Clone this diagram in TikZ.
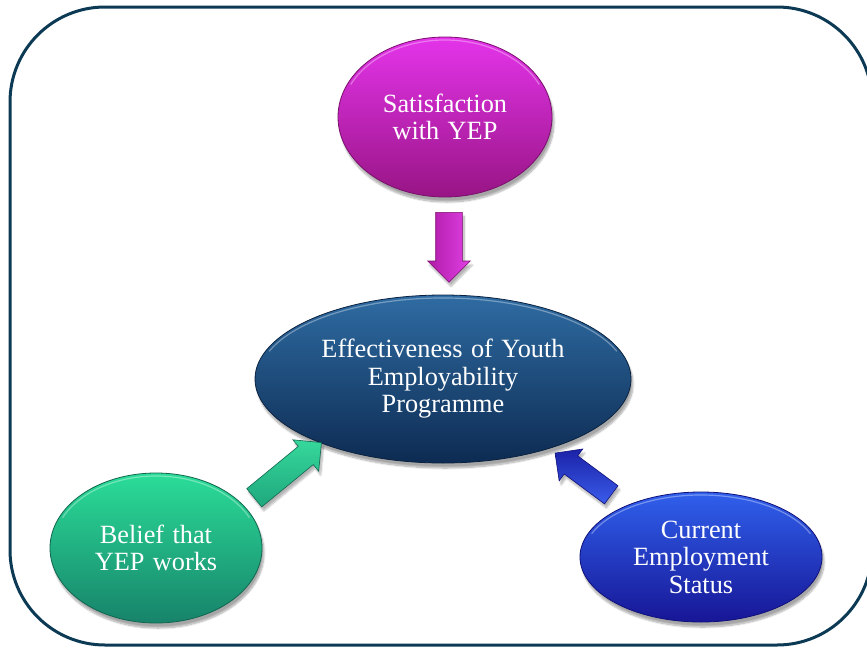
\documentclass[tikz,border=0pt]{standalone}
\usepackage{fontspec}
\setmainfont{Liberation Serif}
\usetikzlibrary{shapes.geometric,shapes.arrows,shadows.blur}
\definecolor{frameNavy}{HTML}{0C3A55}
\definecolor{magTop}{HTML}{E434EA}
\definecolor{magBot}{HTML}{981585}
\definecolor{magEdge}{HTML}{7A0F6C}
\definecolor{effTop}{HTML}{2F6CA3}
\definecolor{effBot}{HTML}{0D2B52}
\definecolor{effEdge}{HTML}{0A2240}
\definecolor{grnTop}{HTML}{2BDD98}
\definecolor{grnBot}{HTML}{17836A}
\definecolor{grnEdge}{HTML}{116650}
\definecolor{bluTop}{HTML}{3060EC}
\definecolor{bluBot}{HTML}{171696}
\definecolor{bluEdge}{HTML}{10107A}
\definecolor{magArrA}{HTML}{E040E4}
\definecolor{magArrB}{HTML}{B01CA8}
\definecolor{grnArrA}{HTML}{36D89C}
\definecolor{grnArrB}{HTML}{1FA77C}
\definecolor{bluArrA}{HTML}{3A5CEA}
\definecolor{bluArrB}{HTML}{1B22A8}
\newcommand{\bubblefont}{\fontsize{26.3}{27.5}\selectfont\spaceskip=0.32em\relax}
\begin{document}
\begin{tikzpicture}[x=1pt,y=-1pt,
  bubble/.style={ellipse, inner sep=0pt, text=white, align=center,
    font=\bubblefont, line width=0.8pt,
    blur shadow={shadow xshift=2pt, shadow yshift=-5pt, shadow opacity=35, shadow blur steps=10}},
  blockarrow/.style={single arrow, inner xsep=0pt, anchor=tail, line width=0.6pt,
    blur shadow={shadow xshift=2pt, shadow yshift=-4pt, shadow opacity=30, shadow blur steps=8}},
  rim/.style={white, opacity=0.35, line width=1.2pt}
]
\useasboundingbox (0,0) rectangle (867,648);
\clip (0,0) rectangle (867,648);
% frame
\draw[frameNavy, line width=3pt, rounded corners=95pt] (10,7) rectangle (872,645);

% ellipses
\node[bubble, minimum width=214pt, minimum height=160pt,
  top color=magTop, bottom color=magBot, draw=magEdge] (sat) at (445,117) {Satisfaction\\with YEP};
\node[bubble, minimum width=376pt, minimum height=168pt,
  top color=effTop, bottom color=effBot, draw=effEdge] (eff) at (443,379) {Effectiveness of Youth\\Employability\\Programme};
\node[bubble, minimum width=212pt, minimum height=150pt,
  top color=grnTop, bottom color=grnBot, draw=grnEdge] (bel) at (156,548) {Belief that\\YEP works};
\node[bubble, minimum width=242pt, minimum height=130pt,
  top color=bluTop, bottom color=bluBot, draw=bluEdge] (cur) at (701,557) {Current\\Employment\\Status};

% top rims
\draw[rim] (sat.center) ++(155:104pt and 77pt) arc[start angle=155, end angle=25, x radius=104pt, y radius=77pt];
\draw[rim] (eff.center) ++(160:185pt and 81pt) arc[start angle=160, end angle=20, x radius=185pt, y radius=81pt];
\draw[rim] (bel.center) ++(155:103pt and 72pt) arc[start angle=155, end angle=25, x radius=103pt, y radius=72pt];
\draw[rim] (cur.center) ++(158:118pt and 62pt) arc[start angle=158, end angle=22, x radius=118pt, y radius=62pt];

% arrows
\coordinate (satTail) at (449,212);
\coordinate (belTail) at (254,498);
\coordinate (curTail) at (611.5,495);
\node[blockarrow, rotate=-90, minimum height=70pt, inner ysep=13pt, single arrow head extend=8pt,
  left color=magArrB, right color=magArrA, draw=magEdge] (arrSat) at (satTail) {};
\node[blockarrow, rotate=39.4, minimum height=87pt, inner ysep=11.5pt, single arrow head extend=8.5pt,
  top color=grnArrA, bottom color=grnArrB, draw=grnEdge] (arrBel) at (belTail) {};
\node[blockarrow, rotate=143.4, minimum height=70pt, inner ysep=11pt, single arrow head extend=8.5pt,
  bottom color=bluArrA, top color=bluArrB, draw=bluEdge] (arrCur) at (curTail) {};
\end{tikzpicture}
\end{document}
